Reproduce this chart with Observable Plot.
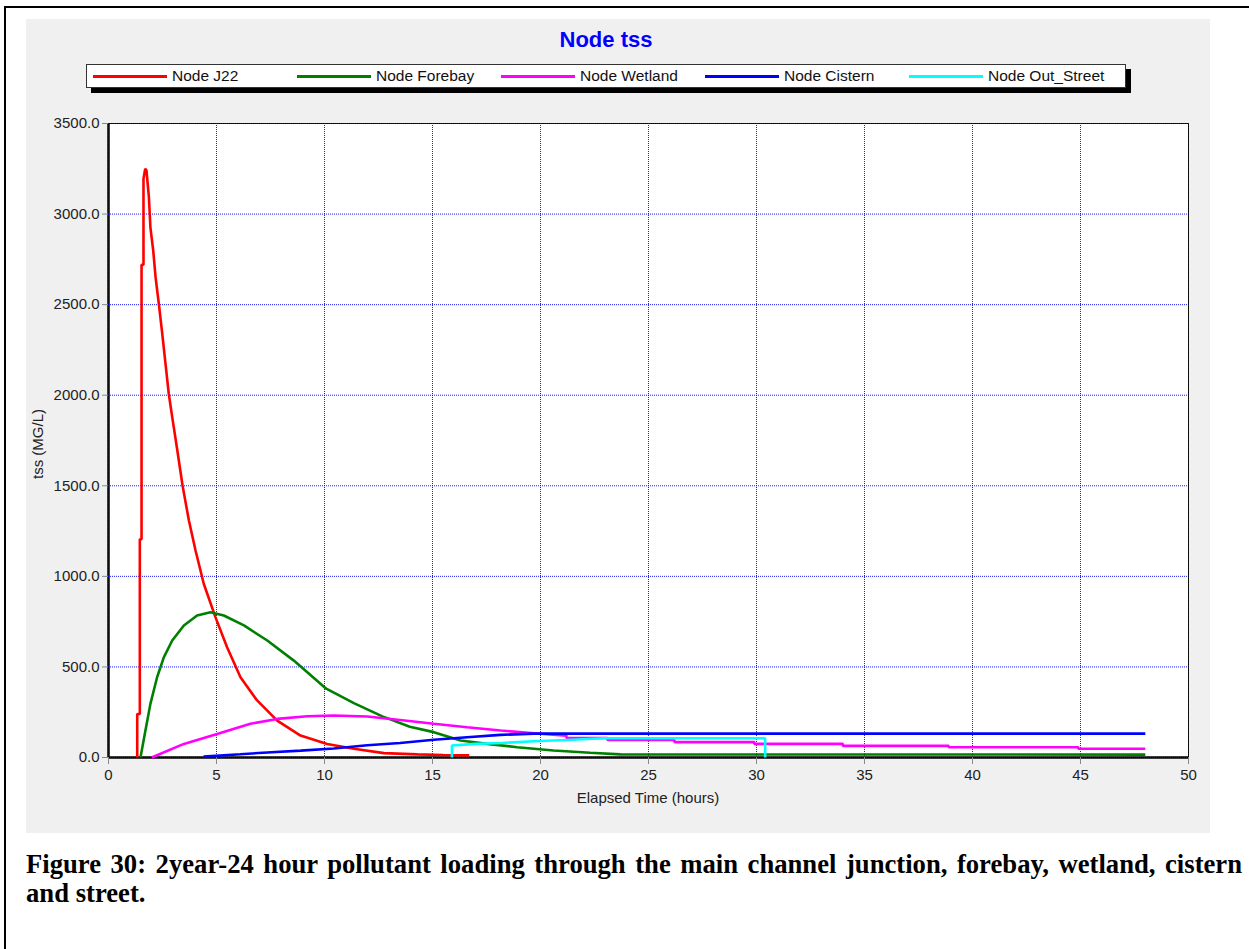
<!DOCTYPE html>
<html>
<head>
<meta charset="utf-8">
<script src="https://cdn.jsdelivr.net/npm/d3@7"></script>
<script src="https://cdn.jsdelivr.net/npm/@observablehq/plot@0.6"></script>
<style>
  html, body { margin: 0; padding: 0; background: #fff; }
  body { width: 1249px; height: 949px; position: relative; overflow: hidden; font-family: Arial, "Liberation Sans", sans-serif; }
  #outer { position: absolute; left: 4px; top: 6px; width: 1260px; height: 960px; border-left: 2px solid #000; border-top: 2px solid #000; }
  #panel { position: absolute; left: 26px; top: 19px; width: 1184px; height: 814px; background: #f0f0f0; }
  #title { position: absolute; left: 380px; top: 10px; width: 400px; text-align: center; color: #0000ff; font-weight: bold; font-size: 22px; line-height: 22px; }
  #legend { position: absolute; left: 60px; top: 45px; width: 1038px; height: 22px; background: #fff; border: 1px solid #333; box-shadow: 5px 5px 0 #000; }
  .lg-line { position: absolute; height: 3px; }
  .lg-text { position: absolute; font-size: 15.5px; line-height: 16px; color: #111; white-space: nowrap; }
  #chart { position: absolute; left: 0; top: 81px; }
  .axlabel { position: absolute; font-size: 15px; line-height: 17px; color: #222; white-space: nowrap; }
  #caption { position: absolute; left: 26px; top: 850px; width: 1216px; font-family: "Liberation Serif", "Times New Roman", serif; font-weight: bold; font-size: 26.67px; line-height: 29px; text-align: justify; color: #000; }
</style>
</head>
<body>
<div id="outer"></div>
<div id="panel">
  <div id="title">Node tss</div>
  <div id="legend"></div>
  <div id="chart"></div>
  <div class="axlabel" id="ylab" style="left:3px; top:460px; transform: rotate(-90deg); transform-origin: 0 0;"></div>
  <div class="axlabel" id="xlab" style="left:0px; top:770px; width:1244px; text-align:center;"></div>
</div>
<div id="caption">Figure 30: 2year-24 hour pollutant loading through the main channel junction, forebay, wetland, cistern and street.</div>
<script>
// ---- data ----
const seriesNames = ["Node J22", "Node Forebay", "Node Wetland", "Node Cistern", "Node Out_Street"];
const seriesColors = ["#ff0000", "#008000", "#ff00ff", "#0000ff", "#00ffff"];
const xTicks = [0, 5, 10, 15, 20, 25, 30, 35, 40, 45, 50];
const yTicks = [0, 500, 1000, 1500, 2000, 2500, 3000, 3500];
const xLabel = "Elapsed Time (hours)";
const yLabel = "tss (MG/L)";

const j22T = [1.33, 1.33, 1.45, 1.45, 1.53, 1.53, 1.62, 1.62, 1.70, 1.76, 1.87, 1.94, 2.07, 2.18, 2.33, 2.48, 2.64, 2.79, 2.95, 3.18, 3.43, 3.72, 4.03, 4.41, 4.95, 5.49, 6.11, 6.88, 7.81, 8.89, 10.12, 11.36, 12.75, 14.30, 15.50, 16.70];
const j22V = [0, 240, 240, 1205, 1205, 2720, 2720, 3195, 3250, 3240, 3093, 2927, 2799, 2651, 2505, 2348, 2173, 2008, 1879, 1700, 1500, 1310, 1143, 959, 775, 609, 443, 315, 204, 121, 75, 48, 24, 17, 14, 12];

const foreT = [1.48, 1.71, 1.94, 2.25, 2.56, 2.95, 3.49, 4.10, 4.72, 5.34, 6.27, 7.35, 8.58, 10.08, 11.36, 12.68, 13.95, 15.06, 16.30, 17.53, 18.92, 20.60, 22.30, 23.70, 48.0];
const foreV = [0, 149, 296, 443, 553, 646, 729, 784, 802, 784, 729, 646, 535, 380, 300, 227, 170, 140, 94, 75, 57, 39, 26, 17, 16];

const wetT = [2.0, 3.49, 5.03, 6.57, 7.81, 9.2, 10.43, 11.98, 13.5, 15.06, 16.6, 18.15, 19.7, 21.2, 21.2, 23.1, 23.1, 26.2, 26.2, 29.9, 29.9, 34.0, 34.0, 38.9, 38.9, 44.9, 44.9, 48.0];
const wetV = [0, 75, 130, 186, 213, 228, 232, 226, 207, 186, 167, 149, 134, 121, 108, 108, 97, 97, 85, 85, 75, 75, 64, 64, 57, 57, 48, 48];

const cisT = [4.4, 6.1, 7.35, 8.9, 10.43, 11.98, 13.5, 15.06, 16.6, 18.15, 19.7, 48.0];
const cisV = [5, 18, 28, 38, 50, 68, 80, 98, 112, 125, 132, 132];

const strT = [15.9, 15.9, 17.0, 18.2, 19.7, 21.2, 22.9, 30.4, 30.4];
const strV = [0, 66, 75, 80, 90, 97, 106, 106, 0];

// ---- build table ----
const allT = [j22T, foreT, wetT, cisT, strT];
const allV = [j22V, foreV, wetV, cisV, strV];
const rows = [];
seriesNames.forEach((name, i) => {
  allT[i].forEach((t, k) => rows.push({series: name, t, v: allV[i][k]}));
});

// ---- legend ----
const legend = document.getElementById("legend");
seriesNames.forEach((name, i) => {
  const ln = document.createElement("div");
  ln.className = "lg-line";
  ln.style.left = (6 + 204 * i) + "px";
  ln.style.top = "10px";
  ln.style.width = "74px";
  ln.style.background = seriesColors[i];
  legend.appendChild(ln);
  const tx = document.createElement("div");
  tx.className = "lg-text";
  tx.style.left = (85 + 204 * i) + "px";
  tx.style.top = "3px";
  tx.textContent = name;
  legend.appendChild(tx);
});
document.getElementById("ylab").textContent = yLabel;
document.getElementById("xlab").textContent = xLabel;

// ---- chart ----
const chart = Plot.plot({
  width: 1184,
  height: 733,
  marginLeft: 82,
  marginRight: 22,
  marginTop: 23,
  marginBottom: 76,
  style: {background: "transparent", fontFamily: "Arial, 'Liberation Sans', sans-serif", fontSize: "15px", color: "#222"},
  x: {domain: [0, 50], label: null},
  y: {domain: [0, 3500], label: null},
  color: {domain: seriesNames, range: seriesColors},
  marks: [
    Plot.frame({fill: "#fff", stroke: "#000", strokeWidth: 1}),
    Plot.ruleX([0], {stroke: "#000", strokeWidth: 2.5}),
    Plot.ruleY([0], {stroke: "#000", strokeWidth: 2.5}),
    Plot.gridX(xTicks, {stroke: "#0000ff", strokeOpacity: 0.9, strokeDasharray: "1,1"}),
    Plot.gridY(yTicks, {stroke: "#0000ff", strokeOpacity: 0.9, strokeDasharray: "1,1"}),
    Plot.axisX(xTicks, {tickSize: 7, tickPadding: 5, stroke: "#888", fill: "#222", label: null}),
    Plot.axisY(yTicks, {tickSize: 6, tickPadding: 3, stroke: "#888", fill: "#222", label: null, tickFormat: d => d.toFixed(1)}),
    Plot.line(rows, {x: "t", y: "v", z: "series", stroke: "series", strokeWidth: 2.6, strokeLinejoin: "miter", strokeLinecap: "butt"})
  ]
});
document.getElementById("chart").appendChild(chart);
</script>
</body>
</html>
